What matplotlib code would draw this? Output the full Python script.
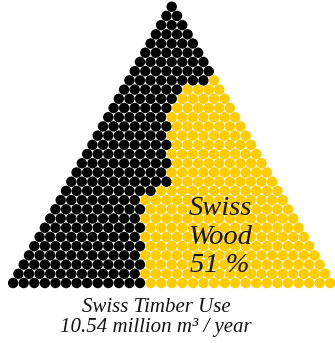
import matplotlib
matplotlib.use("Agg")
import matplotlib.pyplot as plt
import numpy as np

# Data
n_rows = 31
# number of yellow (Swiss wood) circles per row, rows 0..30 from top
yellow_per_row = [0, 0, 0, 0, 0, 0, 0, 0, 1, 4, 5, 6, 7, 7, 8, 8, 9, 9,
                  10, 10, 12, 14, 14, 15, 15, 16, 16, 17, 17, 18, 18]
label_main = ["Swiss", "Wood", "51 %"]
label_bottom = ["Swiss Timber Use", "10.54 million m³ / year"]

black = "#000000"
yellow = "#FFCC00"

W, H = 335, 343
fig = plt.figure(figsize=(W / 100, H / 100), dpi=100)
ax = fig.add_axes([0, 0, 1, 1])
ax.set_xlim(0, W)
ax.set_ylim(H, 0)
ax.axis("off")

# layout of the triangular grid (pixels)
x0, y0 = 171.7, 6.7
dx, dy = 10.57, 9.21

xs, ys, cs = [], [], []
for r in range(n_rows):
    ny = yellow_per_row[r]
    for k in range(r + 1):
        xs.append(x0 + dx * (k - r / 2))
        ys.append(y0 + dy * r)
        cs.append(yellow if k >= r + 1 - ny else black)

diam_pt = 10.4 * 72 / 100
ax.scatter(xs, ys, s=diam_pt ** 2, c=cs, linewidths=0)

font = dict(family=["Liberation Serif", "DejaVu Serif"], style="italic", color="#141414")
for i, line in enumerate(label_main):
    ax.text(220, 215 + 28.5 * i, line, ha="center", va="baseline", fontsize=20.5, **font)
for i, line in enumerate(label_bottom):
    ax.text(156, 312 + 20 * i, line, ha="center", va="baseline", fontsize=15, **font)

fig.savefig("out.png", dpi=100)
